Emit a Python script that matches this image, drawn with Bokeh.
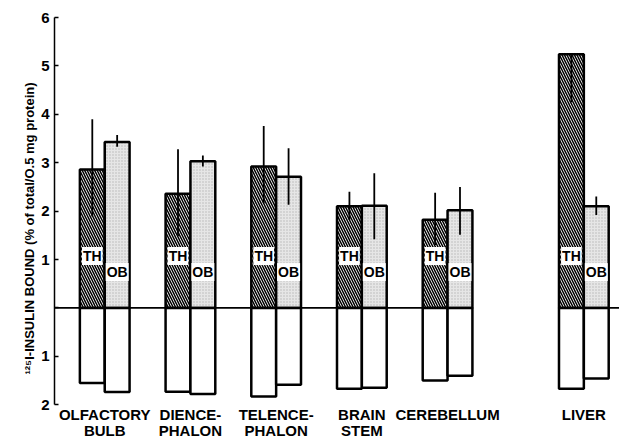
from bokeh.plotting import figure
from bokeh.models import Range1d, FixedTicker, Title
from bokeh.embed import file_html
from bokeh.resources import INLINE
from bokeh.core.properties import value

# ---- data ----
categories = ["OLFACTORY\nBULB", "DIENCE-\nPHALON", "TELENCE-\nPHALON", "BRAIN\nSTEM", "CEREBELLUM", "LIVER"]
series_labels = ["TH", "OB"]
th_mean = [2.86, 2.36, 2.92, 2.10, 1.82, 5.24]
th_err_hi = [3.90, 3.28, 3.76, 2.40, 2.38, 5.24]
th_err_lo = [1.89, 1.48, 2.16, 1.82, 1.30, 4.25]
ob_mean = [3.43, 3.03, 2.71, 2.11, 2.02, 2.10]
ob_err_hi = [3.57, 3.15, 3.30, 2.78, 2.50, 2.30]
ob_err_lo = [3.33, 2.92, 2.13, 1.42, 1.51, 1.92]
th_down = [1.55, 1.73, 1.83, 1.67, 1.50, 1.67]
ob_down = [1.74, 1.78, 1.59, 1.65, 1.40, 1.46]
y_ticks = [-2, -1, 0, 1, 2, 3, 4, 5, 6]
y_tick_labels = ["2", "1", "", "1", "2", "3", "4", "5", "6"]
y_title = "\u00b9\u00b2\u2075I-INSULIN BOUND (% of total/O.5 mg protein)"

# ---- layout ----
group_x = [0, 1, 2, 3, 4, 5.59]
bw = 0.29
th_x = [g - bw / 2 for g in group_x]
ob_x = [g + bw / 2 for g in group_x]
X0, X1 = -0.586, 6.006
Y0, Y1 = -2.719, 6
FONT = "Liberation Sans"

p = figure(width=619, height=439, x_range=Range1d(X0, X1), y_range=Range1d(Y0, Y1),
           output_backend="svg", toolbar_location=None, x_axis_location=None,
           min_border_left=54, min_border_right=0, min_border_top=17, min_border_bottom=0)
p.grid.visible = False
p.outline_line_color = None
p.background_fill_color = "white"

ax = p.yaxis[0]
ax.ticker = FixedTicker(ticks=y_ticks)
ax.major_label_overrides = {t: l for t, l in zip(y_ticks, y_tick_labels)}
ax.bounds = (-2, 6)
ax.major_tick_in = 4
ax.major_tick_out = 0
ax.minor_tick_line_color = None
ax.axis_line_width = 1.5
ax.major_tick_line_width = 1.5
ax.major_label_text_font = FONT
ax.major_label_text_font_style = "bold"
ax.major_label_text_font_size = "15px"
ax.major_label_text_color = "black"
ax.major_label_standoff = 5

p.add_layout(Title(text=y_title, align="center", offset=30, text_font=FONT,
                   text_font_style="bold", text_font_size="13px", text_color="black",
                   standoff=3), "left")

# zero line (broken between cerebellum and liver)
gap_l = ob_x[4] + bw / 2
gap_r = th_x[5] - bw / 2
p.segment(x0=[X0, gap_r], y0=[0, 0], x1=[gap_l, X1], y1=[0, 0], line_color="black", line_width=1.6)

# upper bars
p.vbar(x=th_x, width=bw, top=th_mean, bottom=0, fill_color="white",
       hatch_pattern="\\", hatch_color="black", hatch_scale=5, hatch_weight=1.5,
       line_color="black", line_width=2.5)
p.vbar(x=ob_x, width=bw, top=ob_mean, bottom=0, fill_color="#e6e6e6",
       hatch_pattern=".", hatch_color="#b5b5b5", hatch_scale=3, hatch_weight=1,
       line_color="black", line_width=2.5)
# lower bars
p.vbar(x=th_x, width=bw, top=0, bottom=[-v for v in th_down], fill_color="white",
       line_color="black", line_width=2.5)
p.vbar(x=ob_x, width=bw, top=0, bottom=[-v for v in ob_down], fill_color="white",
       line_color="black", line_width=2.5)

# error bars
p.segment(x0=th_x, y0=th_err_lo, x1=th_x, y1=th_err_hi, line_color="black", line_width=1.8)
p.segment(x0=ob_x, y0=ob_err_lo, x1=ob_x, y1=ob_err_hi, line_color="black", line_width=1.8)

# series labels inside bars
p.text(x=th_x, y=[1.07] * len(th_x), text=[series_labels[0]] * len(th_x),
       text_font=value(FONT), text_font_style="bold", text_font_size="14px",
       text_align="center", text_baseline="middle", background_fill_color="white", padding=1)
p.text(x=ob_x, y=[0.74] * len(ob_x), text=[series_labels[1]] * len(ob_x),
       text_font=value(FONT), text_font_style="bold", text_font_size="14px",
       text_align="center", text_baseline="middle", background_fill_color="white", padding=1)

# category labels (two lines under each group)
line1 = [c.split("\n")[0] for c in categories]
line2 = [c.split("\n")[1] if "\n" in c else "" for c in categories]
p.text(x=group_x, y=[-2.21] * len(group_x), text=line1, text_font=value(FONT),
       text_font_style="bold", text_font_size="15px", text_align="center", text_baseline="alphabetic")
p.text(x=group_x, y=[-2.53] * len(group_x), text=line2, text_font=value(FONT),
       text_font_style="bold", text_font_size="15px", text_align="center", text_baseline="alphabetic")

open("out.html", "w").write(file_html(p, INLINE))
